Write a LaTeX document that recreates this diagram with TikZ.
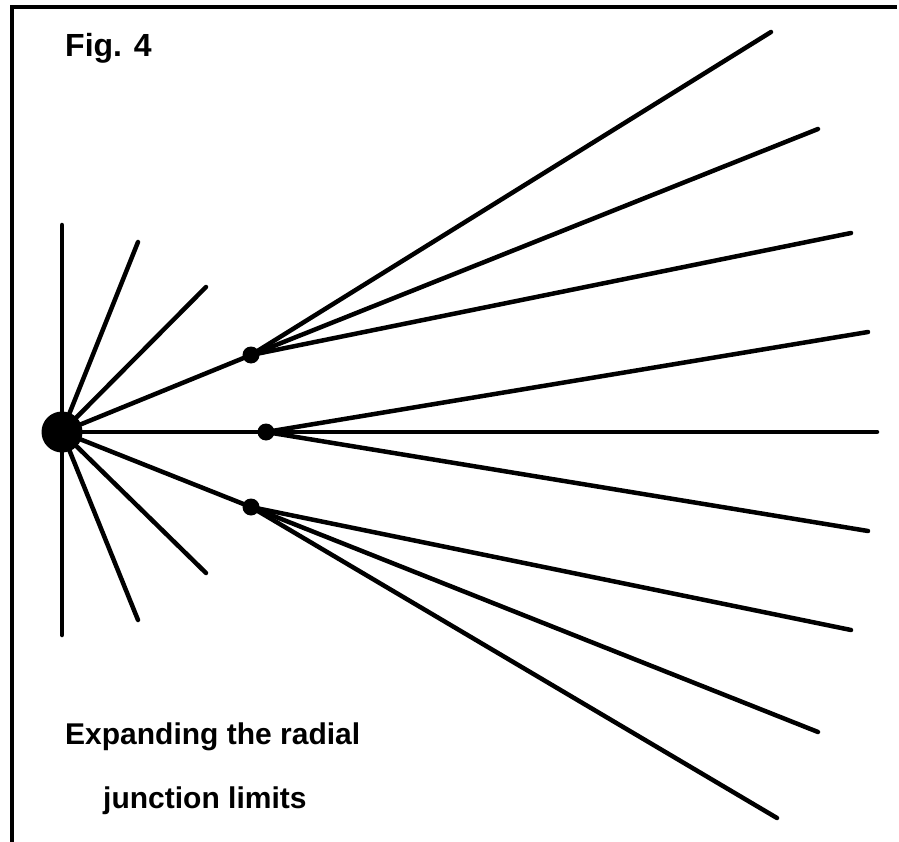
\documentclass[tikz,border=0pt]{standalone}
\usepackage{fontspec}
\setmainfont{Liberation Sans}
\usetikzlibrary{positioning}

\begin{document}
\begin{tikzpicture}[
    x=1pt, y=-1pt,
    hub/.style={circle, fill=black, inner sep=0pt, minimum size=41pt},
    junc/.style={circle, fill=black, inner sep=0pt, minimum size=17pt},
    spoke/.style={line width=4.5pt, line cap=round},
    frame/.style={line width=4pt},
    figtext/.style={anchor=base west, inner sep=0pt, font=\fontsize{30}{36}\selectfont\bfseries}
]
\useasboundingbox (0,0) rectangle (899,842);
\draw[frame] (12,842) -- (12,7) -- (897,7);

\node[figtext, font=\fontsize{32}{38}\selectfont\bfseries] (fig) at (65,57) {Fig. 4};
\node[figtext] (cap1) at (65,744) {Expanding the radial};
\node[figtext] (cap2) at (103,808) {junction limits};

% hub and junctions
\node[hub] (hub) at (62,432) {};
\node[junc] (jup) at (251,355) {};
\node[junc] (jmid) at (266,432) {};
\node[junc] (jlow) at (251,507) {};

% free ends of the short spokes
\coordinate (vtop) at (62,225);
\coordinate (vbot) at (62,635);
\coordinate (s1) at (138,242);
\coordinate (s2) at (206,287);
\coordinate (s3) at (206,573);
\coordinate (s4) at (138,620);

\draw[spoke] (vtop) -- (vbot);
\foreach \s in {s1,s2,s3,s4}
    \draw[spoke] (hub.center) -- (\s);
\draw[spoke] (hub.center) -- (jup.center);
\draw[spoke] (hub.center) -- (jlow.center);

% long fans
\coordinate (u1) at (771,32);
\coordinate (u2) at (818,129);
\coordinate (u3) at (851,233);
\coordinate (m1) at (868,332);
\coordinate (m2) at (877,432);
\coordinate (m3) at (868,531);
\coordinate (l1) at (851,630);
\coordinate (l2) at (818,732);
\coordinate (l3) at (777,818);

\draw[spoke] (hub.center) -- (m2);
\foreach \e in {u1,u2,u3}
    \draw[spoke] (jup.center) -- (\e);
\foreach \e in {m1,m3}
    \draw[spoke] (jmid.center) -- (\e);
\foreach \e in {l1,l2,l3}
    \draw[spoke] (jlow.center) -- (\e);
\end{tikzpicture}
\end{document}
